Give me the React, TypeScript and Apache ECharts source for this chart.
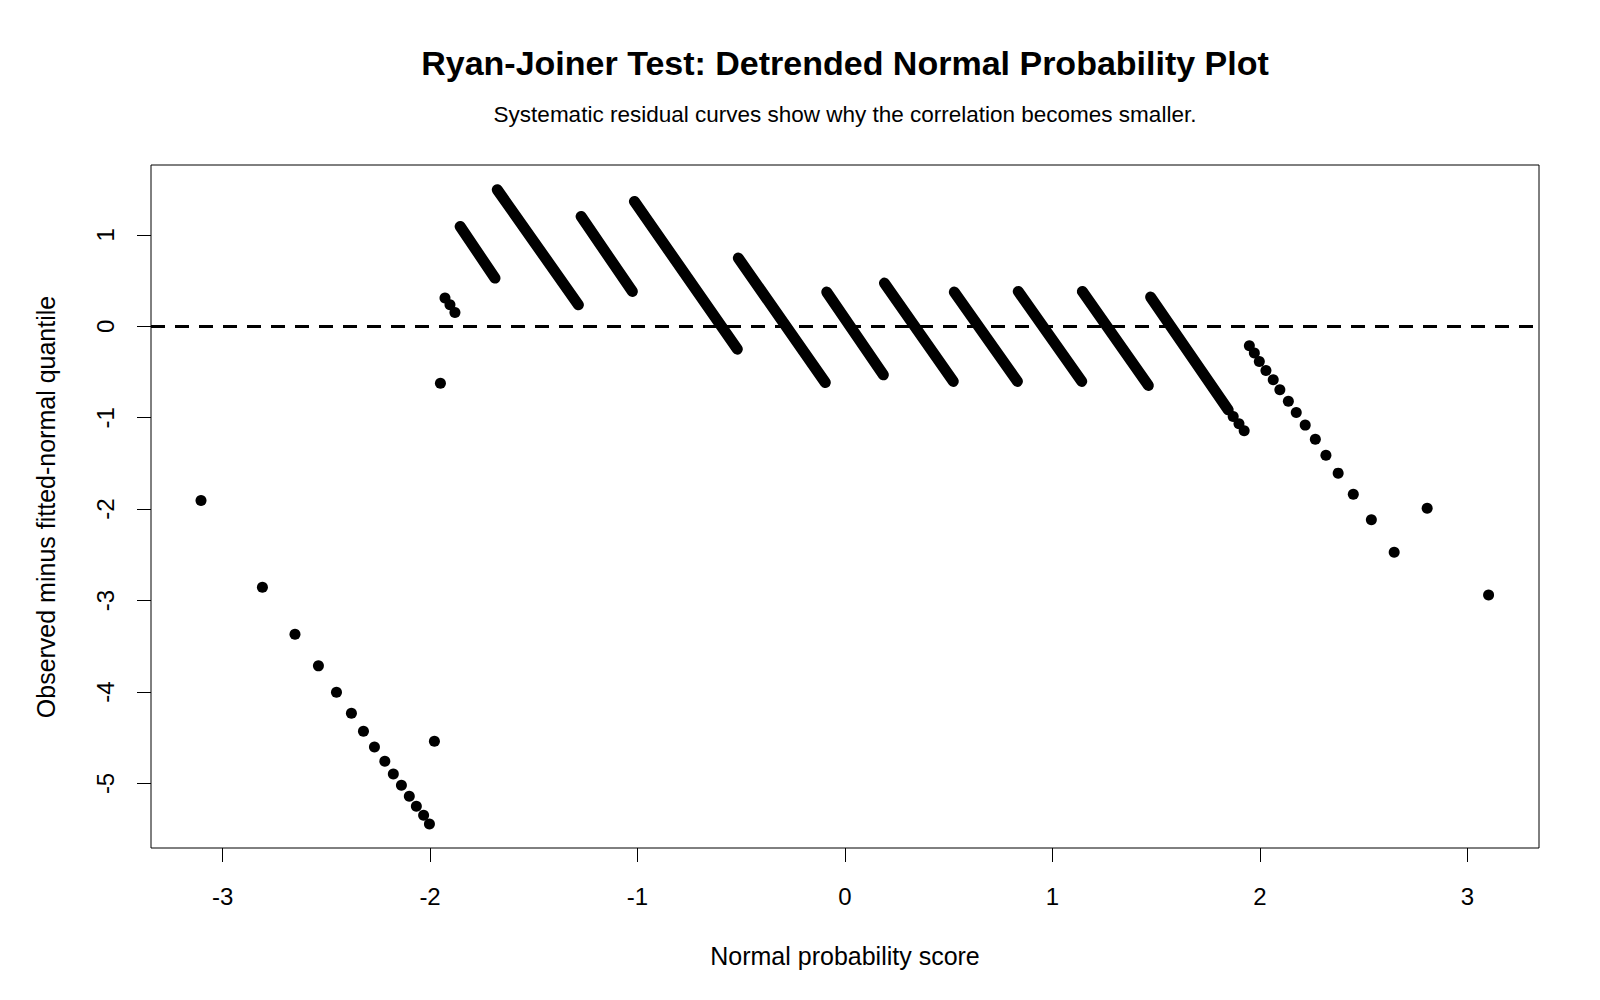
import React, { useEffect, useRef } from "react";
import * as echarts from "echarts";

// Individually visible points (normal score, observed minus fitted-normal quantile)
const sparseScores = [
  -3.104, -2.808, -2.651, -2.538, -2.451, -2.379, -2.321, -2.268, -2.218, -2.177,
  -2.138, -2.1, -2.066, -2.031, -2.003, -1.979, -1.95, -1.928, -1.904, -1.88,
  1.871, 1.899, 1.924, 1.949, 1.973, 1.997, 2.029, 2.064, 2.096, 2.137,
  2.175, 2.218, 2.267, 2.318, 2.377, 2.45, 2.537, 2.647, 2.806, 3.102,
];
const sparseResiduals = [
  -1.906, -2.853, -3.368, -3.714, -4.002, -4.232, -4.429, -4.601, -4.757, -4.896,
  -5.02, -5.14, -5.25, -5.348, -5.443, -4.539, -0.622, 0.309, 0.235, 0.151,
  -0.987, -1.067, -1.143, -0.213, -0.293, -0.385, -0.484, -0.585, -0.695, -0.819,
  -0.943, -1.081, -1.235, -1.41, -1.606, -1.836, -2.117, -2.471, -1.989, -2.938,
];

// Dense runs of tied observations: first and last point of each run
const runStartScores = [-1.855, -1.676, -1.272, -1.015, -0.514, -0.088, 0.19, 0.527, 0.835, 1.144, 1.473];
const runStartResiduals = [1.092, 1.493, 1.201, 1.366, 0.746, 0.374, 0.472, 0.374, 0.381, 0.381, 0.319];
const runEndScores = [-1.687, -1.285, -1.025, -0.519, -0.095, 0.185, 0.522, 0.831, 1.141, 1.462, 1.847];
const runEndResiduals = [0.527, 0.235, 0.381, -0.25, -0.615, -0.531, -0.603, -0.603, -0.603, -0.647, -0.914];

const xTicks = [-3, -2, -1, 0, 1, 2, 3];
const yTicks = [-5, -4, -3, -2, -1, 0, 1];

const titleText = "Ryan-Joiner Test: Detrended Normal Probability Plot";
const subtitleText = "Systematic residual curves show why the correlation becomes smaller.";
const xName = "Normal probability score";
const yName = "Observed minus fitted-normal quantile";

const FONT = "'Liberation Sans', Arial, Helvetica, sans-serif";

export default function App() {
  const ref = useRef<HTMLDivElement>(null);
  useEffect(() => {
    document.body.style.margin = "0";
    if (!ref.current) return;
    const chart = echarts.init(ref.current, null, { renderer: "svg" });

    const sparse = sparseScores.map((x, i) => [x, sparseResiduals[i]]);
    const runSeries = runStartScores.map((x, i) => ({
      type: "line",
      data: [
        [x, runStartResiduals[i]],
        [runEndScores[i], runEndResiduals[i]],
      ],
      symbol: "none",
      silent: true,
      lineStyle: { color: "#000", width: 11, cap: "round", opacity: 1 },
      z: 3,
    }));

    const option: any = {
      animation: false,
      backgroundColor: "#fff",
      grid: {
        left: 151,
        right: 61,
        top: 165,
        bottom: 152,
        show: true,
        borderColor: "#000",
        borderWidth: 1,
        backgroundColor: "transparent",
      },
      xAxis: {
        type: "value",
        min: -3.345,
        max: 3.345,
        axisLine: { show: false, onZero: false },
        splitLine: { show: false },
        axisTick: {
          show: true,
          length: 14,
          lineStyle: { color: "#000", width: 1 },
          customValues: xTicks,
        },
        axisLabel: {
          customValues: xTicks,
          margin: 36,
          fontSize: 24,
          color: "#000",
          fontFamily: FONT,
        },
      },
      yAxis: {
        type: "value",
        min: -5.706,
        max: 1.764,
        axisLine: { show: false, onZero: false },
        splitLine: { show: false },
        axisTick: {
          show: true,
          length: 14,
          lineStyle: { color: "#000", width: 1 },
          customValues: yTicks,
        },
        axisLabel: {
          customValues: yTicks,
          rotate: 90,
          margin: 34,
          fontSize: 24,
          color: "#000",
          fontFamily: FONT,
        },
      },
      graphic: [
        {
          type: "text",
          x: 845,
          y: 63,
          style: {
            text: titleText,
            fill: "#000",
            fontSize: 34,
            fontWeight: "bold",
            fontFamily: FONT,
            textAlign: "center",
            textVerticalAlign: "middle",
            align: "center",
            verticalAlign: "middle",
          },
        },
        {
          type: "text",
          x: 845,
          y: 114,
          style: {
            text: subtitleText,
            fill: "#000",
            fontSize: 22.5,
            fontFamily: FONT,
            textAlign: "center",
            textVerticalAlign: "middle",
            align: "center",
            verticalAlign: "middle",
          },
        },
        {
          type: "text",
          x: 845,
          y: 956,
          style: {
            text: xName,
            fill: "#000",
            fontSize: 25,
            fontFamily: FONT,
            textAlign: "center",
            textVerticalAlign: "middle",
            align: "center",
            verticalAlign: "middle",
          },
        },
        {
          type: "text",
          x: 46,
          y: 507,
          rotation: Math.PI / 2,
          style: {
            text: yName,
            fill: "#000",
            fontSize: 25,
            fontFamily: FONT,
            textAlign: "center",
            textVerticalAlign: "middle",
            align: "center",
            verticalAlign: "middle",
          },
        },
      ],
      series: [
        {
          type: "scatter",
          data: sparse,
          symbol: "circle",
          symbolSize: 11,
          itemStyle: { color: "#000", opacity: 1 },
          silent: true,
          z: 4,
          markLine: {
            silent: true,
            symbol: ["none", "none"],
            label: { show: false },
            lineStyle: { color: "#000", width: 3, type: [14, 10], opacity: 1 },
            data: [{ yAxis: 0 }],
            z: 2,
          },
        },
        ...runSeries,
      ],
    };
    chart.setOption(option);
    return () => chart.dispose();
  }, []);
  return (
    <div
      ref={ref}
      style={{ position: "absolute", left: 0, top: 0, width: 1600, height: 1000 }}
    />
  );
}
